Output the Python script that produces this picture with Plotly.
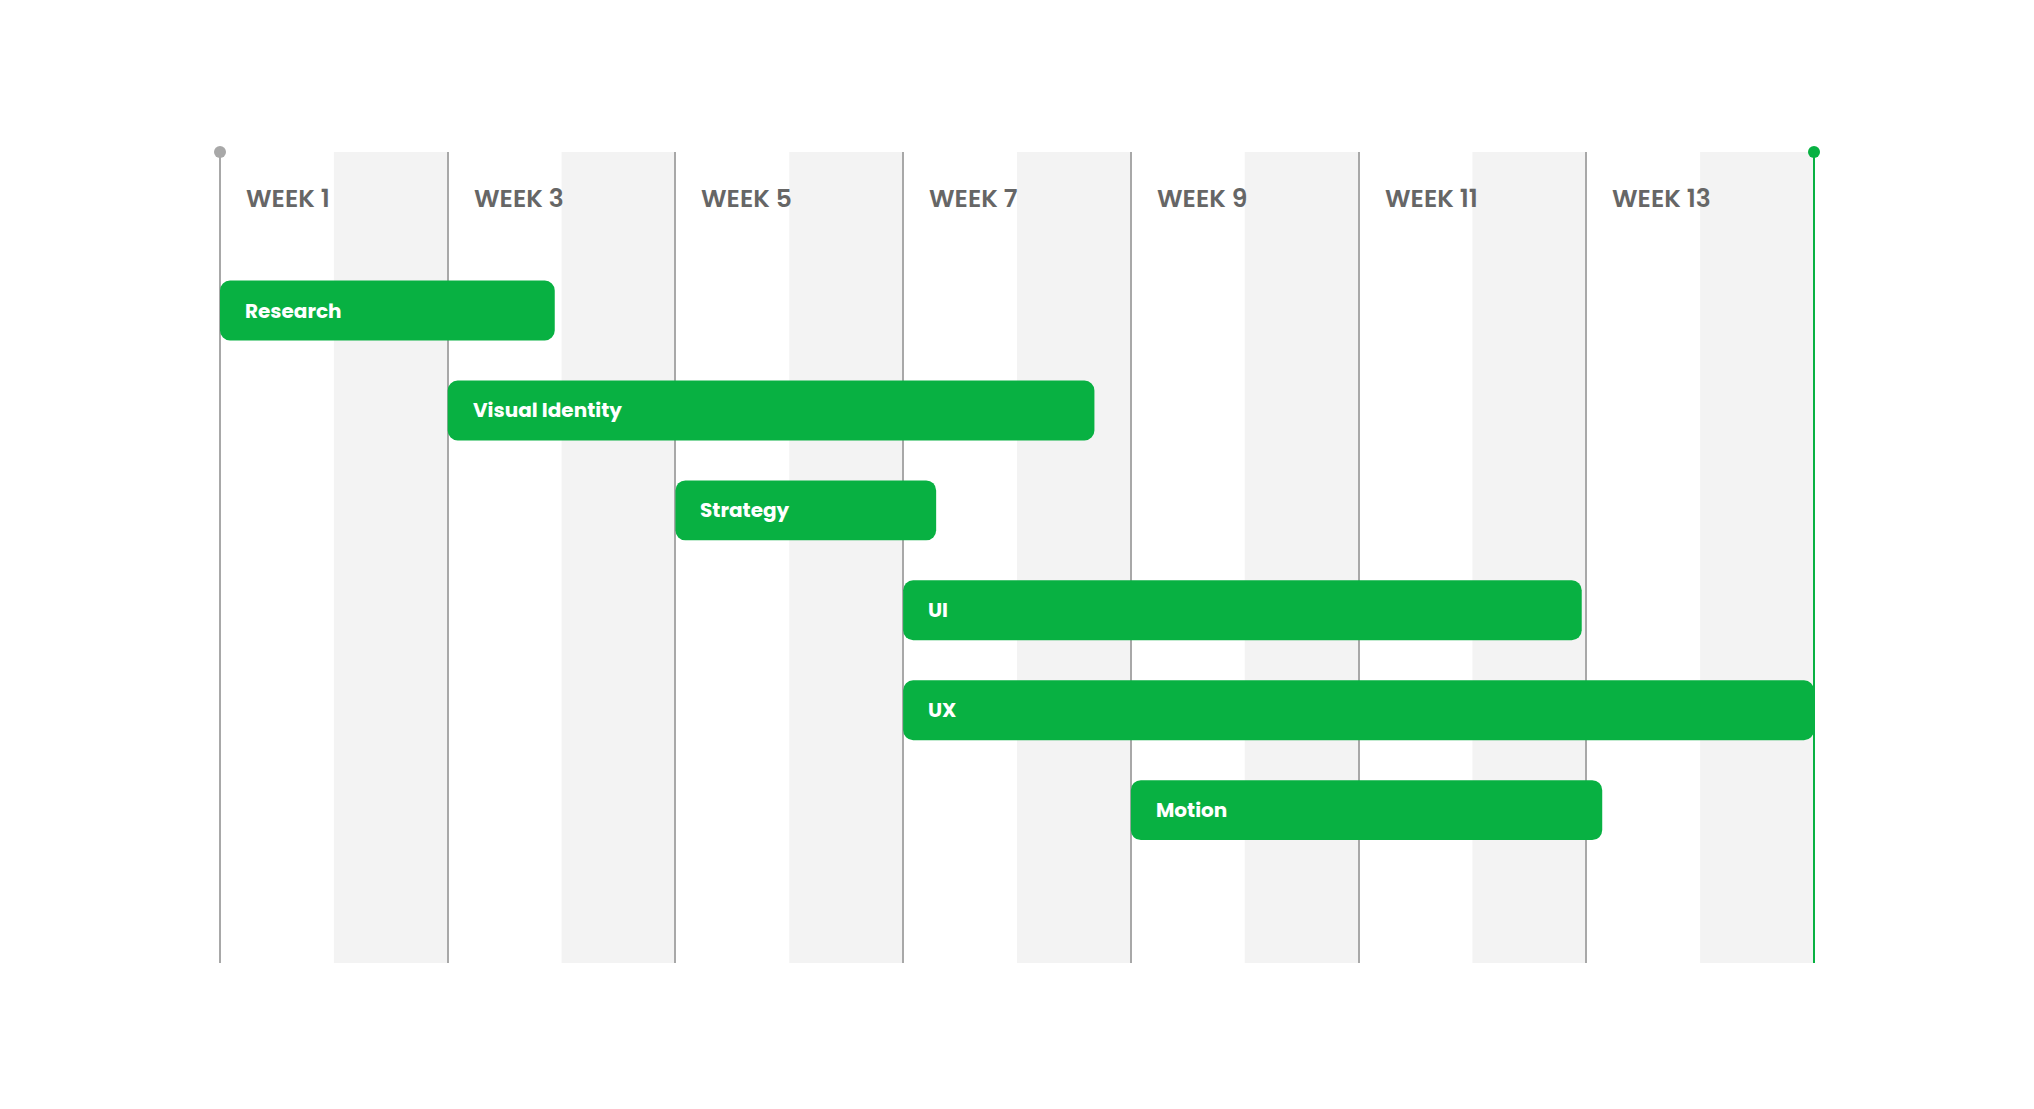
import plotly.graph_objects as go

tasks = ["Research", "Visual Identity", "Strategy", "UI", "UX", "Motion"]
start_week = [0, 2, 4, 6, 6, 8]
end_week = [2.94, 7.68, 6.29, 11.96, 14.0, 12.14]
week_ticks = [0, 2, 4, 6, 8, 10, 12]
week_labels = ["WEEK 1", "WEEK 3", "WEEK 5", "WEEK 7", "WEEK 9", "WEEK 11", "WEEK 13"]
shaded_weeks = [1, 3, 5, 7, 9, 11, 13]
total_weeks = 14

GREEN = "#08b142"
GRID = "#a8a8a8"
BAND = "#f3f3f3"
TEXT = "#666666"
FONT = "Poppins, Inter, sans-serif"

W, H = 2018, 1093
ML, MT, PH = 212, 144, 811
MR = W - ML - 1594
MB = H - MT - PH

fig = go.Figure()
fig.add_trace(go.Bar(
    y=tasks,
    x=[e - s for s, e in zip(start_week, end_week)],
    base=start_week,
    orientation="h",
    width=0.6,
    marker=dict(color=GREEN, line=dict(width=0), cornerradius=10),
    hoverinfo="skip",
))

shapes = []
for w in shaded_weeks:
    shapes.append(dict(type="rect", xref="x", yref="paper", x0=w, x1=w + 1, y0=0, y1=1,
                       fillcolor=BAND, line=dict(width=0), layer="below"))
# start line and end line (paper refs so they are not clipped)
shapes.append(dict(type="line", xref="paper", yref="paper", x0=0, x1=0,
                   y0=0, y1=1, line=dict(color=GRID, width=2), layer="below"))
shapes.append(dict(type="line", xref="paper", yref="paper", x0=1, x1=1,
                   y0=0, y1=1, line=dict(color=GREEN, width=2), layer="above"))
# dots
for xv, col in [(0, GRID), (total_weeks, GREEN)]:
    shapes.append(dict(type="circle", xref="paper", yref="paper", xsizemode="pixel", ysizemode="pixel",
                       xanchor=xv / total_weeks, yanchor=1, x0=-6, x1=6, y0=-6, y1=6,
                       fillcolor=col, line=dict(width=0), layer="above"))

annotations = []
for xv, lab in zip(week_ticks, week_labels):
    annotations.append(dict(x=xv, y=1 - 46.5 / PH, xref="x", yref="paper", text=lab,
                            showarrow=False, xanchor="left", yanchor="middle", xshift=24,
                            font=dict(family=FONT, size=25, color=TEXT, weight=600)))
for t, s in zip(tasks, start_week):
    annotations.append(dict(x=s, y=t, xref="x", yref="y", text=t, showarrow=False,
                            xanchor="left", yanchor="middle", xshift=23,
                            font=dict(family=FONT, size=20, color="white", weight=700)))

fig.update_layout(
    width=W, height=H,
    margin=dict(l=ML, r=MR, t=MT, b=MB),
    paper_bgcolor="white", plot_bgcolor="white",
    showlegend=False,
    shapes=shapes,
    annotations=annotations,
    xaxis=dict(range=[0, total_weeks], tickvals=week_ticks, showticklabels=False, ticks="",
               showgrid=True, gridcolor=GRID, gridwidth=2, zeroline=False, showline=False,
               fixedrange=True),
    yaxis=dict(type="category", categoryorder="array", categoryarray=tasks,
               range=[6.53, -1.587], showticklabels=False, ticks="", showgrid=False,
               zeroline=False, showline=False, fixedrange=True),
)

fig.write_html("out.html")
